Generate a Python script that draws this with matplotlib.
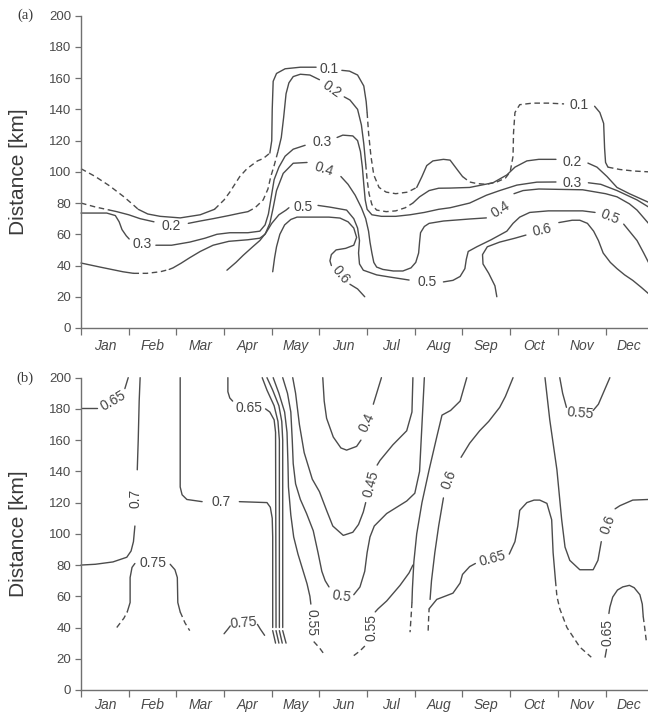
import matplotlib
matplotlib.use('Agg')
import matplotlib.pyplot as plt
from matplotlib.ticker import FixedLocator, NullFormatter

plt.rcParams['font.family'] = ['Liberation Sans', 'DejaVu Sans']

# ---------------- axes data ----------------
months = ['Jan', 'Feb', 'Mar', 'Apr', 'May', 'Jun', 'Jul', 'Aug', 'Sep', 'Oct', 'Nov', 'Dec']
dist_ticks = [0, 20, 40, 60, 80, 100, 120, 140, 160, 180, 200]

# ---------------- panel (a) contour lines: (month, km) ----------------
a_01 = [(0, 102), (0.3, 97), (0.6, 91), (0.9, 84), (1.09, 79), (1.2, 76)]
a_02 = [(1.2, 76), (1.4, 73), (1.66, 71.5), (2.08, 70.5), (2.5, 72.5), (2.8, 76)]
a_03 = [(2.8, 76), (3.0, 82), (3.12, 87), (3.33, 97), (3.48, 102), (3.7, 107), (3.82, 108.5), (3.96, 112)]
a_04 = [(3.96, 112), (4.0, 120), (4.01, 140), (4.03, 158), (4.1, 163), (4.28, 166), (4.6, 167), (4.93, 167)]
a_05 = [(5.47, 165), (5.63, 164.5), (5.8, 162), (5.93, 155), (5.98, 145), (6.0, 138)]
a_06 = [(6.0, 138), (6.03, 125), (6.08, 110), (6.14, 98), (6.25, 90), (6.4, 87), (6.6, 86), (6.85, 87), (7.04, 90)]
a_07 = [(7.04, 90), (7.15, 97), (7.25, 104), (7.38, 107), (7.6, 108), (7.74, 107.5), (7.9, 101), (8.0, 97)]
a_08 = [(8.0, 97), (8.15, 93.5), (8.3, 92.5), (8.5, 92), (8.72, 93.5), (8.9, 96), (9.0, 100), (9.06, 110),
        (9.07, 125), (9.1, 138), (9.2, 143), (9.47, 144), (9.8, 144), (10.13, 143.5)]
a_09 = [(10.77, 142), (10.88, 138), (10.96, 131), (10.98, 115), (11.0, 106), (11.05, 103)]
a_10 = [(11.05, 103), (11.3, 101.5), (11.6, 100.5), (11.9, 100)]

a_11 = [(0, 80), (0.3, 77.5), (0.6, 75.5)]
a_12 = [(0.6, 75.5), (0.75, 74.5), (1.0, 72.5), (1.24, 70), (1.53, 68)]
a_13 = [(2.25, 67), (2.5, 68.5), (2.77, 70), (3.1, 72), (3.33, 73.5), (3.5, 74.5)]
a_14 = [(3.5, 74.5), (3.65, 77), (3.82, 82), (3.92, 89), (3.98, 97), (4.05, 104), (4.13, 113)]
a_15 = [(4.13, 113), (4.2, 122), (4.25, 135), (4.3, 150), (4.36, 157), (4.45, 161), (4.6, 162.5), (4.8, 162), (5.0, 159)]
a_16 = [(5.52, 148), (5.64, 146), (5.8, 140), (5.88, 130), (5.93, 118), (5.97, 105)]
a_17 = [(5.97, 105), (6.0, 95), (6.04, 86), (6.1, 79), (6.2, 75.5), (6.4, 74.5), (6.6, 75), (6.8, 77), (6.96, 80)]
a_18 = [(6.96, 80), (7.1, 84), (7.3, 88), (7.5, 89.5), (7.74, 89.6), (8.15, 90), (8.64, 93), (8.93, 98),
        (9.1, 103), (9.35, 107), (9.6, 108), (9.96, 108)]
a_19 = [(10.63, 105.6), (10.82, 103), (11.03, 97), (11.24, 90), (11.5, 86), (11.9, 80.5)]

a_20 = [(0, 73.6), (0.54, 73.6), (0.72, 72), (0.8, 68), (0.86, 63), (0.95, 59), (1.01, 57)]
a_21 = [(1.57, 53), (1.9, 53), (2.28, 55), (2.6, 57.5), (2.85, 60), (3.12, 61), (3.5, 61), (3.75, 62),
        (3.86, 66), (3.93, 73), (3.99, 84), (4.05, 95), (4.15, 103), (4.28, 110), (4.45, 114.5), (4.7, 117)]
a_22 = [(5.37, 122), (5.49, 123.5), (5.7, 123), (5.8, 120), (5.86, 113), (5.9, 103), (5.93, 92), (5.96, 82),
        (6.0, 76), (6.1, 72.5), (6.3, 71.5), (6.6, 71.5), (6.9, 72.5), (7.2, 74), (7.5, 76), (7.74, 77),
        (8.15, 80), (8.5, 85), (8.78, 88), (9.14, 91.5), (9.56, 93.4), (9.96, 93.5)]
a_23 = [(10.64, 93), (10.9, 92), (11.24, 88), (11.66, 82), (11.9, 77.5)]

a_24 = [(0, 41.6), (0.4, 39), (0.88, 36), (1.1, 35)]
a_25 = [(1.1, 35), (1.38, 35), (1.66, 36), (1.85, 37.5)]
a_26 = [(1.85, 37.5), (1.93, 38.5), (2.1, 41.5), (2.28, 45), (2.5, 49), (2.77, 53), (3.1, 55.5), (3.5, 56.5),
        (3.75, 57.5), (3.86, 60), (3.96, 67), (4.03, 77), (4.1, 88), (4.24, 99), (4.45, 105.5), (4.74, 106)]
a_27 = [(5.45, 97), (5.6, 92), (5.75, 85), (5.88, 77), (5.97, 70), (6.03, 62), (6.06, 55), (6.1, 48),
        (6.14, 42), (6.2, 39), (6.33, 37.5), (6.55, 36.5), (6.75, 36.5), (6.92, 38.5), (7.02, 42), (7.08, 48),
        (7.1, 55), (7.12, 61), (7.2, 65), (7.3, 67), (7.6, 68.5), (8.15, 69.8), (8.5, 70.5)]
a_28 = [(9.08, 86), (9.27, 88), (9.6, 89), (10.52, 88.5), (11.0, 86), (11.24, 84), (11.5, 79.5),
        (11.66, 75.5), (11.9, 67)]

a_29 = [(3.06, 37), (3.25, 42), (3.4, 46.5), (3.6, 52), (3.75, 56), (3.88, 61), (4.0, 67), (4.15, 72.5),
        (4.3, 75.5), (4.36, 77)]
a_30 = [(4.97, 78.5), (5.22, 77.4), (5.57, 75.5), (5.72, 70), (5.8, 64), (5.84, 56), (5.82, 48), (5.84, 41),
        (5.92, 37), (6.2, 34), (6.48, 32.6), (6.88, 30.7)]
a_31 = [(7.6, 29.5), (7.8, 30.5), (7.95, 33), (8.05, 38), (8.08, 44), (8.12, 49), (8.3, 52), (8.6, 56.5),
        (8.93, 62), (9.06, 67), (9.2, 71), (9.41, 74), (9.8, 75), (10.52, 75), (10.78, 74)]
a_32 = [(11.38, 66.5), (11.5, 62), (11.66, 56), (11.8, 48), (11.9, 42)]

a_33 = [(4.02, 36), (4.06, 45), (4.1, 52), (4.17, 60), (4.27, 66), (4.4, 69.5), (4.53, 71), (4.87, 71),
        (5.2, 71), (5.43, 70.4), (5.6, 68), (5.72, 64), (5.78, 58), (5.72, 53), (5.55, 51), (5.35, 50),
        (5.25, 47), (5.22, 43), (5.25, 40)]
a_34 = [(5.64, 28), (5.8, 25), (5.95, 20)]
a_35 = [(8.72, 20), (8.68, 27), (8.55, 35), (8.43, 41), (8.42, 47), (8.52, 52), (8.78, 55), (9.1, 57.5), (9.33, 59.5)]
a_36 = [(10.02, 67.5), (10.3, 69), (10.46, 69), (10.62, 67), (10.75, 62), (10.85, 56), (10.95, 48),
        (11.1, 42), (11.24, 38), (11.4, 34), (11.57, 30.5), (11.75, 26), (11.9, 22)]

# contour labels: (text, month, km, rotation)
a_labels = [('0.1', 5.2, 166, 0), ('0.2', 5.26, 153, -35), ('0.3', 5.05, 119, 0), ('0.4', 5.1, 102, -18),
            ('0.5', 4.66, 77.4, 0), ('0.6', 5.44, 34, -50), ('0.2', 1.9, 65.5, 0), ('0.3', 1.29, 53.5, 0),
            ('0.5', 7.25, 29.5, 0), ('0.4', 8.8, 76, 32), ('0.6', 9.67, 63, 12), ('0.5', 11.09, 71, -22),
            ('0.3', 10.3, 93, 0), ('0.2', 10.3, 106, 0), ('0.1', 10.45, 143, 0)]

# ---------------- panel (b) contour lines ----------------
b_01 = [(0, 180.5), (0.34, 180.5)]
b_02 = [(0.92, 193), (0.95, 196), (0.99, 200)]
b_03 = [(1.24, 200), (1.22, 185), (1.2, 160), (1.18, 141)]
b_04 = [(1.13, 105), (1.1, 95), (1.05, 89), (0.96, 85), (0.67, 82), (0.3, 80.5), (0, 80)]
b_05 = [(2.08, 200), (2.08, 130), (2.12, 125), (2.22, 122), (2.54, 120.6)]
b_06 = [(3.32, 120.6), (3.9, 120), (3.97, 117), (4.01, 110), (4.02, 98), (4.02, 40)]
b_07 = [(4.02, 38), (4.08, 30)]
b_08 = [(3.08, 200), (3.08, 191), (3.12, 187), (3.18, 185)]
b_09 = [(3.87, 180), (3.96, 178), (4.05, 173), (4.08, 165), (4.09, 40)]
b_10 = [(4.09, 38), (4.15, 30)]
b_11 = [(3.8, 200), (3.9, 192), (4.05, 182), (4.13, 172), (4.16, 160), (4.16, 40)]
b_12 = [(4.16, 38), (4.22, 30)]
b_13 = [(3.9, 200), (4.02, 192), (4.15, 182), (4.21, 172), (4.23, 160), (4.23, 40)]
b_14 = [(4.23, 38), (4.3, 30)]
b_15 = [(4.03, 200), (4.15, 190), (4.27, 178), (4.32, 165), (4.34, 145), (4.35, 130), (4.4, 112), (4.46, 98),
        (4.55, 87), (4.65, 77), (4.74, 68), (4.8, 60), (4.82, 55)]
b_16 = [(4.88, 31), (5.0, 27), (5.12, 22)]
b_17 = [(4.23, 200), (4.33, 190), (4.4, 178), (4.43, 160), (4.45, 145), (4.5, 132), (4.6, 122), (4.73, 113),
        (4.87, 102), (4.97, 88), (5.05, 76), (5.12, 70), (5.2, 66)]
b_18 = [(5.72, 61), (5.85, 66), (5.95, 76), (6.0, 88), (6.06, 98), (6.15, 105), (6.41, 113), (6.83, 121),
        (7.0, 126), (7.1, 140), (7.15, 170), (7.2, 200)]
b_19 = [(4.44, 200), (4.5, 190), (4.58, 170), (4.68, 152), (4.85, 135), (5.0, 127), (5.15, 115), (5.28, 105),
        (5.5, 99), (5.7, 101), (5.82, 106), (5.92, 114), (5.97, 120)]
b_20 = [(6.21, 144), (6.27, 147), (6.54, 157), (6.83, 166), (6.94, 178), (6.96, 200)]
b_21 = [(5.07, 200), (5.1, 185), (5.15, 174), (5.29, 162), (5.45, 155), (5.57, 153.6), (5.78, 156), (5.87, 160)]
b_22 = [(6.13, 183), (6.2, 190), (6.3, 200)]
b_23 = [(5.72, 22), (5.85, 25), (5.98, 29)]
b_24 = [(6.17, 50), (6.23, 52), (6.41, 57), (6.69, 67), (6.88, 75), (6.96, 80)]
b_25 = [(8.09, 200), (7.95, 185), (7.75, 179), (7.57, 176), (7.46, 162), (7.3, 141), (7.15, 120), (7.04, 100),
        (6.98, 82), (6.95, 65), (6.94, 56)]
b_26 = [(6.94, 56), (6.92, 46), (6.9, 37)]
b_27 = [(9.06, 200), (8.9, 188), (8.78, 181), (8.55, 172), (8.36, 166), (8.15, 158), (7.97, 149)]
b_28 = [(7.6, 123), (7.5, 105), (7.42, 88), (7.35, 70), (7.32, 58)]
b_29 = [(7.28, 38), (7.29, 46), (7.3, 52)]
b_30 = [(7.3, 52), (7.46, 58), (7.8, 62), (7.95, 68.5), (8.0, 74), (8.15, 79), (8.27, 81)]
b_31 = [(8.98, 87), (9.1, 95), (9.16, 105), (9.2, 115), (9.35, 120), (9.5, 121.6), (9.62, 121.6), (9.77, 119.5),
        (9.87, 109), (9.9, 88), (9.95, 70)]
b_32 = [(9.95, 70), (9.98, 60), (10.04, 52), (10.19, 40), (10.46, 27.5), (10.7, 21)]
b_33 = [(9.73, 200), (9.83, 173), (9.98, 141), (10.08, 109), (10.15, 91.5), (10.25, 83), (10.46, 77),
        (10.74, 77), (10.84, 83), (10.91, 95)]
b_34 = [(11.2, 116), (11.3, 118), (11.57, 121.6), (11.9, 122)]
b_35 = [(10.04, 200), (10.1, 190), (10.18, 181)]
b_36 = [(10.74, 179), (10.85, 183), (11.09, 200)]
b_37 = [(11.02, 26), (10.99, 21)]
b_38 = [(11.07, 49), (11.09, 53), (11.15, 59.5), (11.25, 64), (11.36, 66), (11.5, 67), (11.6, 65.5),
        (11.72, 61), (11.77, 55), (11.79, 47)]
b_39 = [(11.79, 47), (11.82, 40), (11.86, 30)]
b_40 = [(0.75, 40), (0.9, 46), (0.97, 50)]
b_41 = [(0.97, 50), (1.03, 56), (1.03, 72), (1.07, 78.5), (1.13, 81)]
b_42 = [(1.87, 80.5), (1.97, 77), (2.02, 72), (2.03, 56), (2.08, 50)]
b_43 = [(2.08, 50), (2.18, 43), (2.28, 38)]
b_44 = [(3.0, 36), (3.08, 39), (3.13, 41)]
b_45 = [(3.7, 42), (3.76, 39), (3.85, 35)]

b_labels = [('0.65', 0.68, 185, 30), ('0.7', 1.15, 123, 90), ('0.7', 2.93, 120.6, 0), ('0.65', 3.52, 180.5, 0),
            ('0.75', 1.5, 81.6, 0), ('0.75', 3.42, 43, 5), ('0.55', 4.84, 43, -90), ('0.5', 5.46, 60, -8),
            ('0.45', 6.09, 132, 75), ('0.4', 6.0, 171, 65), ('0.55', 6.1, 40, 90), ('0.6', 7.72, 135, 70),
            ('0.65', 8.62, 84, 15), ('0.6', 11.05, 106, 70), ('0.55', 10.46, 177, -5), ('0.65', 11.05, 37, 90)]

# ---------------- drawing ----------------
LC = '#4c4c4c'
SOLID = '-'
DASH = (0, (4.0, 2.6))

a_pieces = [(a_01, DASH), (a_02, SOLID), (a_03, DASH), (a_04, SOLID), (a_05, SOLID), (a_06, DASH),
            (a_07, SOLID), (a_08, DASH), (a_09, SOLID), (a_10, DASH),
            (a_11, DASH), (a_12, SOLID), (a_13, SOLID), (a_14, DASH), (a_15, SOLID), (a_16, SOLID),
            (a_17, DASH), (a_18, SOLID), (a_19, SOLID),
            (a_20, SOLID), (a_21, SOLID), (a_22, SOLID), (a_23, SOLID),
            (a_24, SOLID), (a_25, DASH), (a_26, SOLID), (a_27, SOLID), (a_28, SOLID),
            (a_29, SOLID), (a_30, SOLID), (a_31, SOLID), (a_32, SOLID),
            (a_33, SOLID), (a_34, SOLID), (a_35, SOLID), (a_36, SOLID)]

b_pieces = [(b_01, SOLID), (b_02, SOLID), (b_03, SOLID), (b_04, SOLID), (b_05, SOLID), (b_06, SOLID),
            (b_07, SOLID), (b_08, SOLID), (b_09, SOLID), (b_10, SOLID), (b_11, SOLID), (b_12, SOLID),
            (b_13, SOLID), (b_14, SOLID), (b_15, SOLID), (b_16, DASH), (b_17, SOLID), (b_18, SOLID),
            (b_19, SOLID), (b_20, SOLID), (b_21, SOLID), (b_22, SOLID), (b_23, DASH), (b_24, SOLID),
            (b_25, SOLID), (b_26, DASH), (b_27, SOLID), (b_28, SOLID), (b_29, DASH), (b_30, SOLID),
            (b_31, SOLID), (b_32, DASH), (b_33, SOLID), (b_34, SOLID), (b_35, SOLID), (b_36, SOLID),
            (b_37, SOLID), (b_38, SOLID), (b_39, DASH), (b_40, DASH), (b_41, SOLID), (b_42, SOLID),
            (b_43, DASH), (b_44, SOLID), (b_45, SOLID)]

fig = plt.figure(figsize=(6.48, 7.13), dpi=100)
ax_a = fig.add_axes([0.125, 0.540, 0.875, 0.438])
ax_b = fig.add_axes([0.125, 0.0323, 0.875, 0.438])


def style_axes(ax, month_pad):
    ax.set_xlim(0, 11.89)
    ax.set_ylim(0, 200)
    for s in ('top', 'right'):
        ax.spines[s].set_visible(False)
    for s in ('left', 'bottom'):
        ax.spines[s].set_color('#707070')
        ax.spines[s].set_linewidth(1.0)
    ax.yaxis.set_major_locator(FixedLocator(dist_ticks))
    ax.set_yticklabels([str(v) for v in dist_ticks])
    ax.tick_params(axis='y', direction='out', length=4, width=0.9, color='#707070',
                   labelsize=9.5, labelcolor='#4a4a4a', pad=3)
    ax.xaxis.set_major_locator(FixedLocator(list(range(13))))
    ax.xaxis.set_major_formatter(NullFormatter())
    ax.xaxis.set_minor_locator(FixedLocator([i + 0.5 for i in range(12)]))
    ax.set_xticklabels(months, minor=True, style='italic')
    ax.tick_params(axis='x', which='major', direction='out', length=5, width=0.9, color='#707070')
    ax.tick_params(axis='x', which='minor', length=0, labelsize=10, labelcolor='#4a4a4a', pad=month_pad)
    ax.set_ylabel('Distance [km]', fontsize=15, color='#3a3a3a')
    ax.yaxis.set_label_coords(-0.093, 0.5)


def draw(ax, pieces, labels):
    for pts, ls in pieces:
        xs = [p[0] for p in pts]
        ys = [p[1] for p in pts]
        ax.plot(xs, ys, color=LC, lw=1.0, linestyle=ls, solid_joinstyle='round',
                solid_capstyle='round', clip_on=False)
    for txt, m, d, rot in labels:
        ax.text(m, d, txt, ha='center', va='center', rotation=rot, fontsize=10,
                color='#454545', rotation_mode='anchor')


style_axes(ax_a, 8)
style_axes(ax_b, 5.5)
draw(ax_a, a_pieces, a_labels)
draw(ax_b, b_pieces, b_labels)

fig.text(0.0386, 0.979, '(a)', family='Liberation Serif', fontsize=10.5, color='#3a3a3a',
         ha='center', va='center')
fig.text(0.0386, 0.470, '(b)', family='Liberation Serif', fontsize=10.5, color='#3a3a3a',
         ha='center', va='center')

fig.savefig('out.png', dpi=100)
